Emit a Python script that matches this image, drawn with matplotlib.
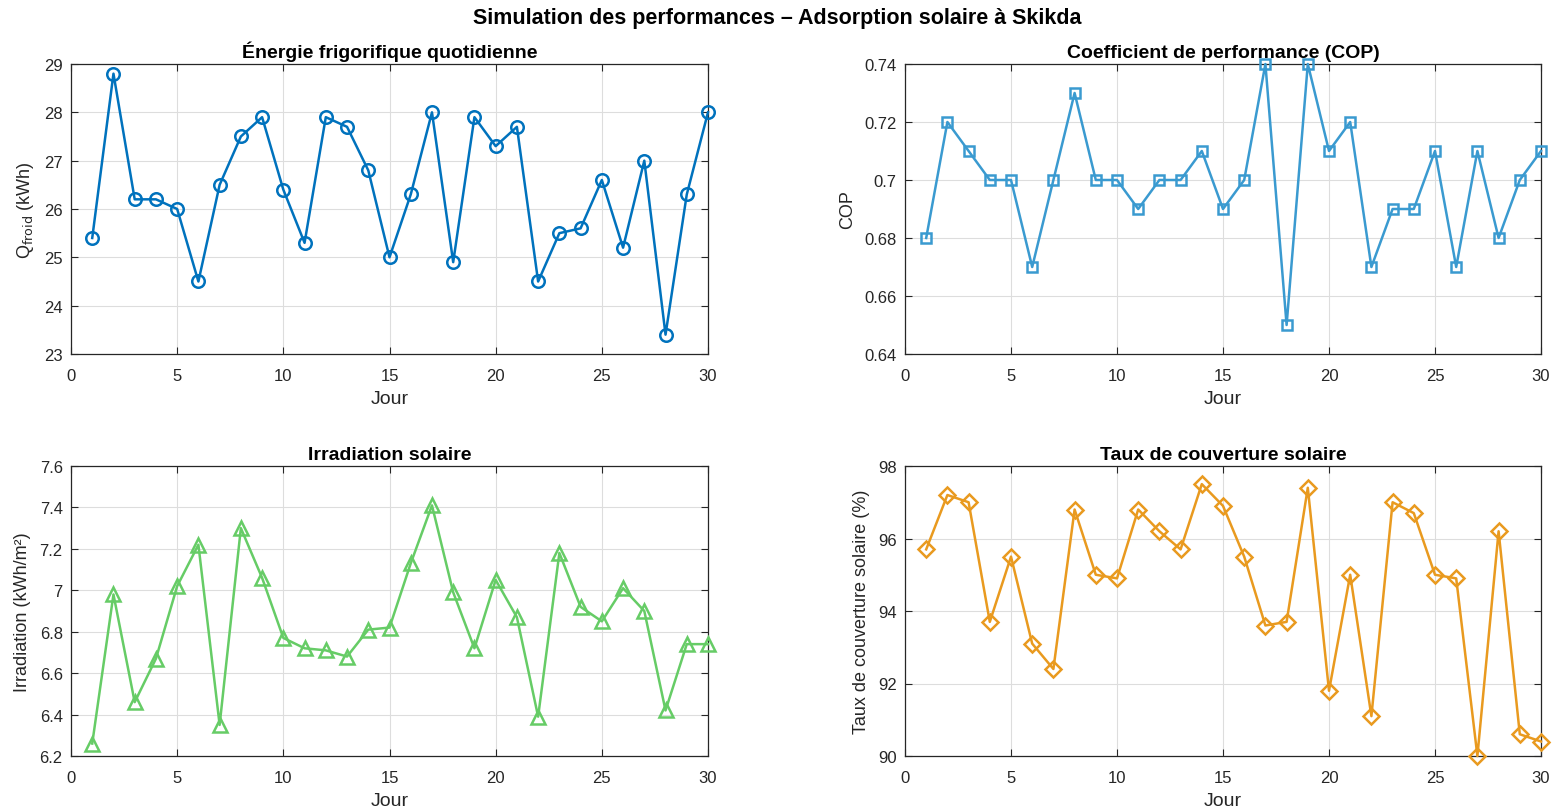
import numpy as np
import matplotlib
matplotlib.use('Agg')
import matplotlib.pyplot as plt
from matplotlib.ticker import FuncFormatter

plt.rcParams['font.family'] = ['Liberation Sans', 'DejaVu Sans']

# daily values
jours = list(range(1, 31))
q_froid = [25.4, 28.8, 26.2, 26.2, 26.0, 24.5, 26.5, 27.5, 27.9, 26.4,
           25.3, 27.9, 27.7, 26.8, 25.0, 26.3, 28.0, 24.9, 27.9, 27.3,
           27.7, 24.5, 25.5, 25.6, 26.6, 25.2, 27.0, 23.4, 26.3, 28.0]
cop = [0.68, 0.72, 0.71, 0.70, 0.70, 0.67, 0.70, 0.73, 0.70, 0.70,
       0.69, 0.70, 0.70, 0.71, 0.69, 0.70, 0.74, 0.65, 0.74, 0.71,
       0.72, 0.67, 0.69, 0.69, 0.71, 0.67, 0.71, 0.68, 0.70, 0.71]
irradiation = [6.26, 6.98, 6.46, 6.67, 7.02, 7.22, 6.35, 7.30, 7.06, 6.77,
               6.72, 6.71, 6.68, 6.81, 6.82, 7.13, 7.41, 6.99, 6.72, 7.05,
               6.87, 6.39, 7.18, 6.92, 6.85, 7.01, 6.90, 6.42, 6.74, 6.74]
taux = [95.7, 97.2, 97.0, 93.7, 95.5, 93.1, 92.4, 96.8, 95.0, 94.9,
        96.8, 96.2, 95.7, 97.5, 96.9, 95.5, 93.6, 93.7, 97.4, 91.8,
        95.0, 91.1, 97.0, 96.7, 95.0, 94.9, 90.0, 96.2, 90.6, 90.4]

fig = plt.figure(figsize=(15.54, 8.12), dpi=100)
fig.suptitle('Simulation des performances – Adsorption solaire à Skikda',
             fontsize=15.5, fontweight='bold', y=0.99)

W, H = 1554, 812
pos = [(71, 65, 708, 355), (905, 65, 1541, 355),
       (71, 467, 708, 757), (905, 467, 1541, 757)]

panels = [
    (q_froid, '#0072BD', 'o', 9, 'Énergie frigorifique quotidienne',
     r'Q$_{\mathrm{froid}}$ (kWh)', (23, 29), np.arange(23, 30, 1)),
    (cop, '#3A9AD0', 's', 7, 'Coefficient de performance (COP)',
     'COP', (0.64, 0.74), np.arange(0.64, 0.7401, 0.02)),
    (irradiation, '#66CC66', '^', 10, 'Irradiation solaire',
     'Irradiation (kWh/m²)', (6.2, 7.6), np.arange(6.2, 7.601, 0.2)),
    (taux, '#E99A1F', 'D', 8, 'Taux de couverture solaire',
     'Taux de couverture solaire (%)', (90, 98), np.arange(90, 98.1, 2)),
]

fmt = FuncFormatter(lambda v, p: '%g' % round(v, 4))

for (x0, y0, x1, y1), (vals, col, mk, ms, title, ylab, ylim, yt) in zip(pos, panels):
    ax = fig.add_axes([x0 / W, 1 - y1 / H, (x1 - x0) / W, (y1 - y0) / H])
    ax.plot(jours, vals, color=col, marker=mk, markersize=ms,
            markerfacecolor='none', markeredgewidth=1.8, linewidth=1.8,
            clip_on=False, zorder=3)
    ax.set_xlim(0, 30)
    ax.set_ylim(*ylim)
    ax.set_xticks(np.arange(0, 31, 5))
    ax.set_yticks(yt)
    ax.yaxis.set_major_formatter(fmt)
    ax.grid(True, color='#dddddd', linewidth=0.8)
    ax.set_axisbelow(True)
    ax.tick_params(direction='in', top=True, right=True, length=5,
                   labelsize=12, colors='#262626', width=0.8)
    ax.tick_params(axis='x', pad=10)
    ax.tick_params(axis='y', pad=6)
    for s in ax.spines.values():
        s.set_color('#262626')
        s.set_linewidth(0.9)
    ax.set_title(title, fontsize=14, fontweight='bold', pad=5)
    ax.set_xlabel('Jour', fontsize=14, color='#262626', labelpad=5)
    ax.set_ylabel(ylab, fontsize=13, color='#262626', labelpad=6)

fig.savefig('out.png', dpi=100)
